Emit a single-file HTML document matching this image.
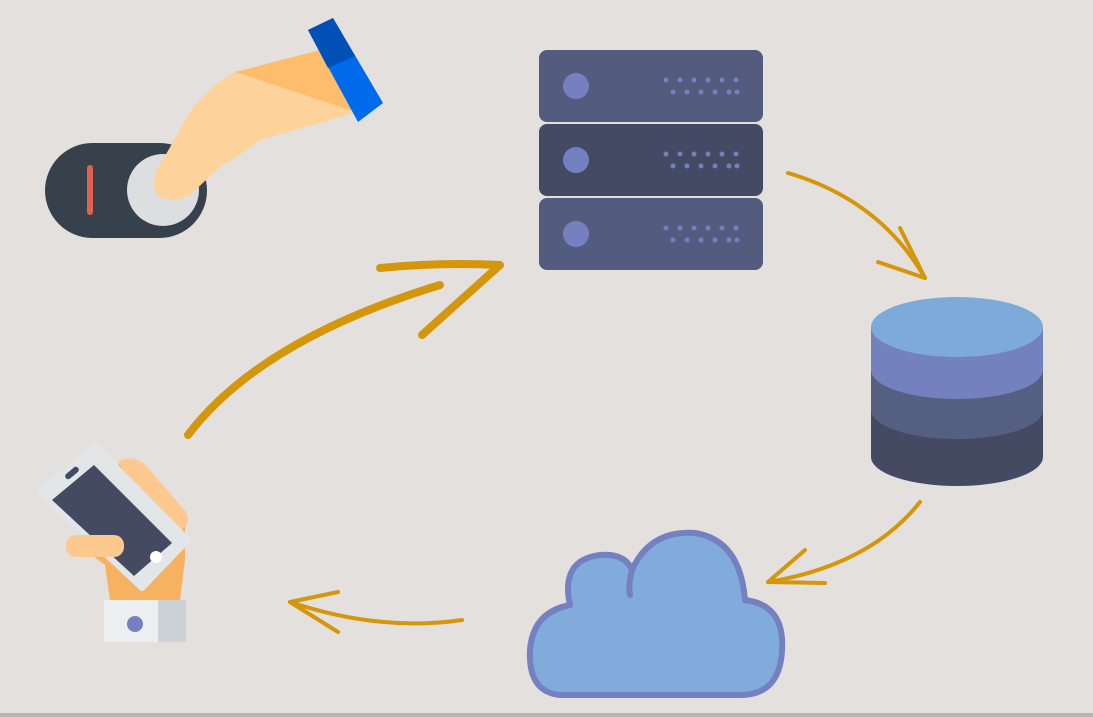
<!DOCTYPE html>
<html><head><meta charset="utf-8"><style>html,body{margin:0;padding:0;background:#e3e0dd}svg{display:block}</style></head>
<body>
<svg width="1093" height="717" viewBox="0 0 1093 717" xmlns="http://www.w3.org/2000/svg">
<rect width="1093" height="717" fill="#e3e0dd"/>
<rect x="0" y="713" width="1093" height="4" fill="#b8b6b4"/>
<!-- switch -->
<rect x="45" y="143" width="162" height="95" rx="47.5" fill="#36414b"/>
<rect x="87" y="165" width="6" height="50" rx="3" fill="#e0624f"/>
<circle cx="163" cy="190" r="36" fill="#dcdedf"/>
<!-- hand -->
<polygon points="235,72 320,50 356,112 300,118" fill="#fdbd6c"/>
<path d="M235,72 L356,112 L330,120 L260,140 L232,160 L222,165 L190,195 Q170,205 158,195 Q150,185 158,168 L180,130 Q195,95 235,72 Z" fill="#fdd39b"/>
<polygon points="308,30 333,18 383,103 358,122" fill="#006bea"/>
<polygon points="308,30 333,18 355,56 328,68" fill="#0050b8"/>
<!-- server -->
<rect x="539" y="50" width="224" height="72" rx="8" fill="#535c7f"/>
<rect x="539" y="124" width="224" height="72" rx="8" fill="#434a63"/>
<rect x="539" y="198" width="224" height="72" rx="8" fill="#535c7f"/>
<g fill="#7580c0">
<circle cx="576" cy="86" r="13"/><circle cx="576" cy="160" r="13"/><circle cx="576" cy="234" r="13"/>
<g id="d"><circle cx="666" cy="80" r="2.5"/><circle cx="680" cy="80" r="2.5"/><circle cx="694" cy="80" r="2.5"/><circle cx="708" cy="80" r="2.5"/><circle cx="722" cy="80" r="2.5"/><circle cx="673" cy="92" r="2.5"/><circle cx="687" cy="92" r="2.5"/><circle cx="701" cy="92" r="2.5"/><circle cx="715" cy="92" r="2.5"/><circle cx="729" cy="92" r="2.5"/><circle cx="736" cy="80" r="2.5"/><circle cx="737" cy="92" r="2.5"/></g>
<use href="#d" y="74"/><use href="#d" y="148"/>
</g>
<!-- database -->
<path d="M871,327 L871,457 A86,29 0 0 0 1043,457 L1043,327 Z" fill="#434a62"/>
<path d="M871,327 L871,410 A86,29 0 0 0 1043,410 L1043,327 Z" fill="#555f82"/>
<path d="M871,327 L871,370 A86,29 0 0 0 1043,370 L1043,327 Z" fill="#7381bf"/>
<ellipse cx="957" cy="327" rx="86" ry="30" fill="#7eaad9"/>
<!-- cloud -->
<path d="M560,695 Q528,692 530,650 Q533,612 570,605 Q560,560 600,555 Q625,553 632,570 Q650,530 695,533 Q740,540 745,600 Q785,605 782,650 Q780,695 740,695 Z" fill="#80abdb" stroke="#7580c0" stroke-width="6" stroke-linejoin="round"/>
<path d="M632,570 Q628,585 630,595" fill="none" stroke="#7580c0" stroke-width="6" stroke-linecap="round"/>
<!-- phone -->
<path d="M120,462 L140,465 L185,512 L185,560 L180,600 L110,600 L105,565 L85,550 Z" fill="#f7b261"/>
<path d="M118,462 Q135,452 150,470 L186,512 Q192,525 180,530 L150,510 Z" fill="#fdc98e"/>
<polygon points="40,492 95,446 188,540 142,588" fill="#e3e6e8" stroke="#e3e6e8" stroke-width="6" stroke-linejoin="round"/>
<polygon points="52,500 94,465 172,543 134,576" fill="#434a62"/>
<rect x="64" y="470" width="16" height="6" rx="3" fill="#434a62" transform="rotate(-40 72 473)"/>
<circle cx="156" cy="557" r="6" fill="#fff"/>
<rect x="66" y="535" width="58" height="22" rx="10" fill="#fdc98e"/>
<rect x="104" y="600" width="82" height="42" fill="#eceeef"/>
<rect x="158" y="600" width="28" height="42" fill="#cbd1d5"/>
<circle cx="135" cy="624" r="8" fill="#7580c0"/>
<!-- arrows -->
<g fill="none" stroke="#d4960a" stroke-linecap="round" stroke-linejoin="round">
<path d="M188,435 Q260,340 440,285" stroke-width="8"/>
<path d="M380,268 Q440,262 500,265 L422,335" stroke-width="8"/>
<path d="M788,173 Q880,200 925,278" stroke-width="4"/>
<path d="M878,262 L925,278 L900,228" stroke-width="4"/>
<path d="M920,502 Q870,565 768,582" stroke-width="4"/>
<path d="M805,550 L768,582 L825,583" stroke-width="4"/>
<path d="M462,620 Q380,632 290,602" stroke-width="4"/>
<path d="M338,592 L290,602 L338,632" stroke-width="4"/>
</g>
</svg>
</body></html>
